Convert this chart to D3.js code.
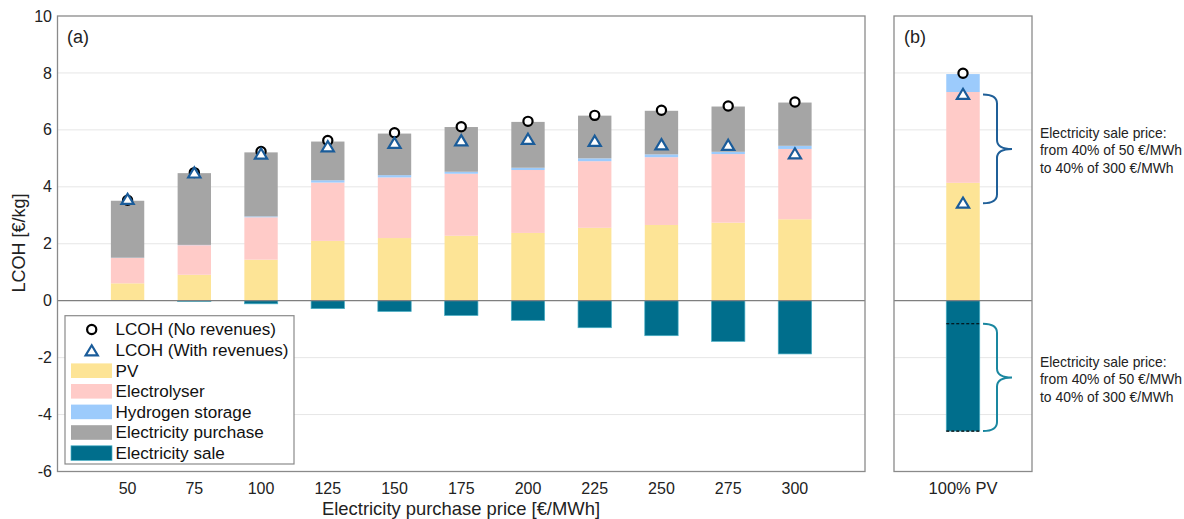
<!DOCTYPE html>
<html><head><meta charset="utf-8">
<script src="https://cdn.jsdelivr.net/npm/d3@7"></script>
<style>body{margin:0;background:#fff}svg{display:block;font-family:"Liberation Sans",Arial,Helvetica,sans-serif}</style>
</head><body><svg id="c" width="1184" height="519"></svg>
<script>
// ---- data ----
const categories = [50,75,100,125,150,175,200,225,250,275,300];
const pv          = [0.61,0.91,1.44,2.10,2.20,2.28,2.38,2.56,2.66,2.74,2.86];
const electrolyser= [0.89,1.04,1.49,2.05,2.13,2.18,2.21,2.34,2.38,2.41,2.47];
const h2storage   = [0.01,0.01,0.03,0.08,0.08,0.07,0.08,0.10,0.10,0.08,0.11];
const purchase    = [2.00,2.52,2.25,1.36,1.46,1.57,1.61,1.50,1.53,1.59,1.52];
const sale        = [0,-0.03,-0.11,-0.28,-0.38,-0.52,-0.69,-0.95,-1.23,-1.43,-1.87];
const lcohNo      = [3.53,4.50,5.24,5.63,5.90,6.11,6.30,6.51,6.69,6.84,6.98];
const lcohWith    = [3.55,4.48,5.14,5.40,5.52,5.61,5.66,5.59,5.47,5.45,5.15];
const catB = ["100% PV"];
const pvB = [4.14], electrolyserB = [3.19], h2storageB = [0.63], purchaseB = [0];
const saleB = [-4.58];
const saleRangeB = [-0.81,-4.58];
const lcohNoB = [7.99];
const lcohWithB = [7.24,3.42];
const yTicks = [-6,-4,-2,0,2,4,6,8,10];
const noteLines = ["Electricity sale price:","from 40% of 50 €/MWh","to 40% of 300 €/MWh"];
const seriesNames = ["PV","Electrolyser","Hydrogen storage","Electricity purchase","Electricity sale"];
const colors = {"PV":"#fde496","Electrolyser":"#ffcbc8","Hydrogen storage":"#9ccbfc","Electricity purchase":"#a5a5a5","Electricity sale":"#006e8c"};

const svg = d3.select("#c");
const y = d3.scaleLinear().domain([-6,10]).range([471.5,16]);
const xa = d3.scaleBand().domain(categories).range([57.5,865]).paddingInner(0.5).paddingOuter(0.8);
const xb = d3.scaleBand().domain(catB).range([894,1032]).paddingInner(0.5).paddingOuter(0.78);

function panel(x, x0, x1){
  const g = svg.append("g");
  g.selectAll("line.grid").data(yTicks.filter(t=>t!==0 && t!==10 && t!==-6)).enter().append("line")
    .attr("x1",x0).attr("x2",x1).attr("y1",d=>y(d)).attr("y2",d=>y(d))
    .attr("stroke","#e6e6e6").attr("stroke-width",1);
  return g;
}
function stackBars(g, x, cats, arrs){
  cats.forEach((c,i)=>{
    let base = 0;
    arrs.forEach(([name,arr])=>{
      const v = arr[i];
      if (name==="Electricity sale"){
        if (v<0) g.append("rect").attr("x",x(c)).attr("width",x.bandwidth())
          .attr("y",y(0)).attr("height",y(v)-y(0)).attr("fill",colors[name])
          .attr("stroke","#4bb0c6").attr("stroke-width",0.7);
        return;
      }
      if (v>0) g.append("rect").attr("x",x(c)).attr("width",x.bandwidth())
        .attr("y",y(base+v)).attr("height",y(base)-y(base+v)).attr("fill",colors[name]);
      base += v;
    });
  });
}
function circle(g,cx,cy){ g.append("circle").attr("cx",cx).attr("cy",cy).attr("r",4.6).attr("fill","#fff").attr("stroke","#000").attr("stroke-width",2.2); }
function tri(g,cx,cy){ const s=5.8; g.append("path").attr("d",`M${cx},${cy-s}L${cx+s*1.05},${cy+s*0.75}L${cx-s*1.05},${cy+s*0.75}Z`).attr("fill","#fff").attr("stroke","#1a5c9a").attr("stroke-width",2.2).attr("stroke-linejoin","miter"); }

// panel a
const ga = panel(xa,57.5,865);
stackBars(ga, xa, categories, [["PV",pv],["Electrolyser",electrolyser],["Hydrogen storage",h2storage],["Electricity purchase",purchase],["Electricity sale",sale]]);
categories.forEach((c,i)=>{ const cx = xa(c)+xa.bandwidth()/2; circle(ga,cx,y(lcohNo[i])); tri(ga,cx,y(lcohWith[i])); });
ga.append("line").attr("x1",57.5).attr("x2",865).attr("y1",y(0)).attr("y2",y(0)).attr("stroke","#7f7f7f").attr("stroke-width",1.3);
ga.append("rect").attr("x",57.5).attr("y",16).attr("width",865-57.5).attr("height",471.5-16).attr("fill","none").attr("stroke","#8a8a8a").attr("stroke-width",1.3);

// panel b
const gb = panel(xb,894,1032);
stackBars(gb, xb, catB, [["PV",pvB],["Electrolyser",electrolyserB],["Hydrogen storage",h2storageB],["Electricity purchase",purchaseB],["Electricity sale",saleB]]);
const cxb = xb(catB[0])+xb.bandwidth()/2;
saleRangeB.forEach(v=>gb.append("line").attr("x1",xb(catB[0])).attr("x2",xb(catB[0])+xb.bandwidth()).attr("y1",y(v)).attr("y2",y(v)).attr("stroke","#000").attr("stroke-width",1.2).attr("stroke-dasharray","3,2"));
circle(gb,cxb,y(lcohNoB[0]));
lcohWithB.forEach(v=>tri(gb,cxb,y(v)));
gb.append("line").attr("x1",894).attr("x2",1032).attr("y1",y(0)).attr("y2",y(0)).attr("stroke","#7f7f7f").attr("stroke-width",1.3);
gb.append("rect").attr("x",894).attr("y",16).attr("width",1032-894).attr("height",471.5-16).attr("fill","none").attr("stroke","#8a8a8a").attr("stroke-width",1.3);

// braces
function brace(yTop,yBot,color){
  const x0=983, x1=997, x2=1012, r=9, ym=(yTop+yBot)/2;
  svg.append("path").attr("d",`M${x0},${yTop}Q${x1},${yTop} ${x1},${yTop+r}L${x1},${ym-r}Q${x1},${ym} ${x2},${ym}Q${x1},${ym} ${x1},${ym+r}L${x1},${yBot-r}Q${x1},${yBot} ${x0},${yBot}`)
    .attr("fill","none").attr("stroke",color).attr("stroke-width",2);
}
brace(y(lcohWithB[0]),y(lcohWithB[1]),"#1f5f98");
brace(y(saleRangeB[0]),y(saleRangeB[1]),"#1a87a0");
function note(yc){
  svg.append("text").attr("x",1040).attr("font-size",13.9).attr("fill","#222")
    .selectAll("tspan").data(noteLines).enter().append("tspan").attr("x",1040).attr("y",(d,i)=>yc+(i-1)*17.5).attr("dy","0.35em").text(d=>d);
}
note(150.3);
note(379.3);

// axes text
svg.append("g").selectAll("text").data(yTicks).enter().append("text")
  .attr("x",52).attr("y",d=>y(d)).attr("dy","0.35em").attr("text-anchor","end").attr("font-size",16).attr("fill","#222").text(d=>d);
svg.append("g").selectAll("text").data(categories).enter().append("text")
  .attr("x",d=>xa(d)+xa.bandwidth()/2).attr("y",488.5).attr("dy","0.35em").attr("text-anchor","middle").attr("font-size",16).attr("fill","#222").text(d=>d);
svg.append("text").attr("x",cxb).attr("y",488).attr("dy","0.35em").attr("text-anchor","middle").attr("font-size",16.5).attr("fill","#222").text(catB[0]);
svg.append("text").attr("x",461).attr("y",508.5).attr("dy","0.35em").attr("text-anchor","middle").attr("font-size",18.4).attr("fill","#222").text("Electricity purchase price [€/MWh]");
svg.append("text").attr("transform","translate(19,243) rotate(-90)").attr("dy","0.35em").attr("text-anchor","middle").attr("font-size",18).attr("fill","#222").text("LCOH [€/kg]");
svg.append("text").attr("x",67).attr("y",37).attr("dy","0.35em").attr("font-size",18).attr("fill","#222").text("(a)");
svg.append("text").attr("x",904).attr("y",37).attr("dy","0.35em").attr("font-size",18).attr("fill","#222").text("(b)");

// legend
const lg = svg.append("g");
lg.append("rect").attr("x",65).attr("y",315.7).attr("width",229).attr("height",148.3).attr("fill","#fff").attr("stroke","#8a8a8a").attr("stroke-width",1.2);
const rowY = i => 329.5 + i*20.6;
circle(lg,91.7,rowY(0)); tri(lg,91.7,rowY(1)+1);
lg.append("text").attr("x",115.5).attr("y",rowY(0)).attr("dy","0.35em").attr("font-size",17.1).attr("fill","#111").text("LCOH (No revenues)");
lg.append("text").attr("x",115.5).attr("y",rowY(1)).attr("dy","0.35em").attr("font-size",17.1).attr("fill","#111").text("LCOH (With revenues)");
seriesNames.forEach((n,i)=>{
  const yy = rowY(i+2);
  lg.append("rect").attr("x",71).attr("y",yy-7.3).attr("width",41).attr("height",14.6).attr("fill",colors[n])
    .attr("stroke", n==="Electricity sale" ? "#4bb0c6" : "none").attr("stroke-width",0.7);
  lg.append("text").attr("x",115.5).attr("y",yy).attr("dy","0.35em").attr("font-size",17.1).attr("fill","#111").text(n);
});
</script></body></html>
